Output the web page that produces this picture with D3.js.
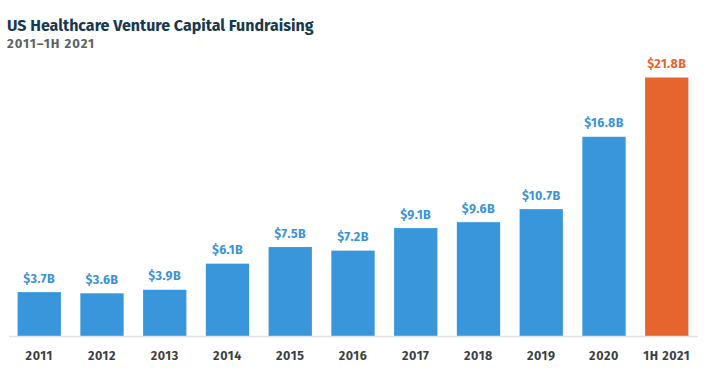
<!DOCTYPE html>
<html><head><meta charset="utf-8">
<script src="https://cdn.jsdelivr.net/npm/d3@7"></script>
<style>body{margin:0;background:#fff;} svg{display:block;}</style>
</head><body>
<svg id="chart" width="714" height="387"></svg>
<script>
const categories = ["2011","2012","2013","2014","2015","2016","2017","2018","2019","2020","1H 2021"];
const values = [3.7,3.6,3.9,6.1,7.5,7.2,9.1,9.6,10.7,16.8,21.8];
const valueLabels = ["$3.7B","$3.6B","$3.9B","$6.1B","$7.5B","$7.2B","$9.1B","$9.6B","$10.7B","$16.8B","$21.8B"];
const highlight = "1H 2021";

const svg = d3.select("#chart");
const font = "'Fira Sans','Noto Sans','Open Sans',sans-serif";
const baseY = 336;
const x = d3.scaleBand().domain(categories).range([8.5, 697.5]).paddingInner(0.31).paddingOuter(0.145);
const y = d3.scaleLinear().domain([0, 21.8]).range([baseY, 77.5]);

svg.append("text").attr("x",7).attr("y",31).text("US Healthcare Venture Capital Fundraising")
  .attr("font-family",font).attr("font-weight",700).attr("font-size",16).attr("fill","#17394f");
svg.append("text").attr("x",7).attr("y",48).text("2011\u20131H 2021")
  .attr("font-family",font).attr("font-weight",700).attr("font-size",13).attr("letter-spacing",1)
  .attr("fill","#5a6268");

svg.append("g").selectAll("rect").data(values).join("rect")
  .attr("x",(d,i)=>x(categories[i])).attr("width",x.bandwidth())
  .attr("y",d=>y(d)).attr("height",d=>baseY-y(d))
  .attr("fill",(d,i)=>categories[i]===highlight?"#e6652f":"#3996db");

svg.append("g").selectAll("text").data(values).join("text")
  .attr("x",(d,i)=>x(categories[i])+x.bandwidth()/2).attr("y",d=>y(d)-9.5)
  .attr("text-anchor","middle").text((d,i)=>valueLabels[i])
  .attr("font-family",font).attr("font-weight",700).attr("font-size",12.5).attr("letter-spacing",0.4)
  .attr("fill",(d,i)=>categories[i]===highlight?"#e6652f":"#3a93d8");

const axis = svg.append("g").attr("transform",`translate(0,${baseY})`)
  .call(d3.axisBottom(x).tickSize(0).tickPadding(15));
axis.select(".domain").attr("stroke","#dfe3e6").attr("stroke-width",1.5);
axis.selectAll("text").attr("font-family",font).attr("font-weight",700).attr("font-size",12.5)
  .attr("letter-spacing",0.6).attr("fill","#3b3f44");
</script>
</body></html>
